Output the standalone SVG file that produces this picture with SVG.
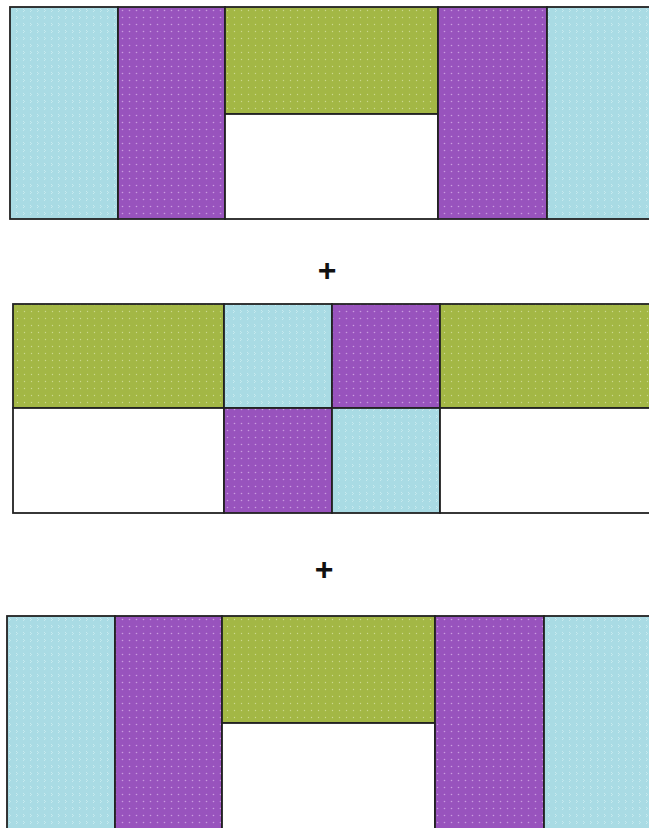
<svg xmlns="http://www.w3.org/2000/svg" width="649" height="828" viewBox="0 0 649 828">
<style>
.b{fill:url(#pb);stroke:#222;stroke-width:1.8}
.p{fill:url(#pp);stroke:#222;stroke-width:1.8}
.g{fill:url(#pg);stroke:#222;stroke-width:1.8}
.w{fill:#ffffff;stroke:#222;stroke-width:1.8}
.plus{font-family:"Liberation Sans",Arial,sans-serif;font-size:32px;font-weight:bold;fill:#111;text-anchor:middle}
</style>
<defs>
<pattern id="pb" width="7" height="7" patternUnits="userSpaceOnUse">
<rect width="7" height="7" fill="#a9dbe4"/>
<path d="M2 2 L3.5 3.5 L2 5" fill="none" stroke="#d4f0f4" stroke-width="0.7"/>
</pattern>
<pattern id="pp" width="7" height="7" patternUnits="userSpaceOnUse">
<rect width="7" height="7" fill="#9853bd"/>
<circle cx="3.5" cy="3.5" r="0.8" fill="#c99ae0"/>
</pattern>
<pattern id="pg" width="7" height="7" patternUnits="userSpaceOnUse">
<rect width="7" height="7" fill="#a3b745"/>
<circle cx="3.5" cy="3.5" r="0.7" fill="#cbd98e"/>
</pattern>
</defs>
<g id="block1">
<rect class="b" x="10" y="7" width="108" height="212"/>
<rect class="p" x="118" y="7" width="107" height="212"/>
<rect class="g" x="225" y="7" width="213" height="107"/>
<rect class="w" x="225" y="114" width="213" height="105"/>
<rect class="p" x="438" y="7" width="109" height="212"/>
<rect class="b" x="547" y="7" width="104" height="212"/>
</g>
<g id="plus1"><text class="plus" x="327" y="281">+</text></g>
<g id="block2">
<rect class="g" x="13" y="304" width="211" height="104"/>
<rect class="w" x="13" y="408" width="211" height="105"/>
<rect class="b" x="224" y="304" width="108" height="104"/>
<rect class="p" x="332" y="304" width="108" height="104"/>
<rect class="p" x="224" y="408" width="108" height="105"/>
<rect class="b" x="332" y="408" width="108" height="105"/>
<rect class="g" x="440" y="304" width="211" height="104"/>
<rect class="w" x="440" y="408" width="211" height="105"/>
</g>
<g id="plus2"><text class="plus" x="324" y="580">+</text></g>
<g id="block3">
<rect class="b" x="7" y="616" width="108" height="215"/>
<rect class="p" x="115" y="616" width="107" height="215"/>
<rect class="g" x="222" y="616" width="213" height="107"/>
<rect class="w" x="222" y="723" width="213" height="108"/>
<rect class="p" x="435" y="616" width="109" height="215"/>
<rect class="b" x="544" y="616" width="107" height="215"/>
</g>
</svg>
